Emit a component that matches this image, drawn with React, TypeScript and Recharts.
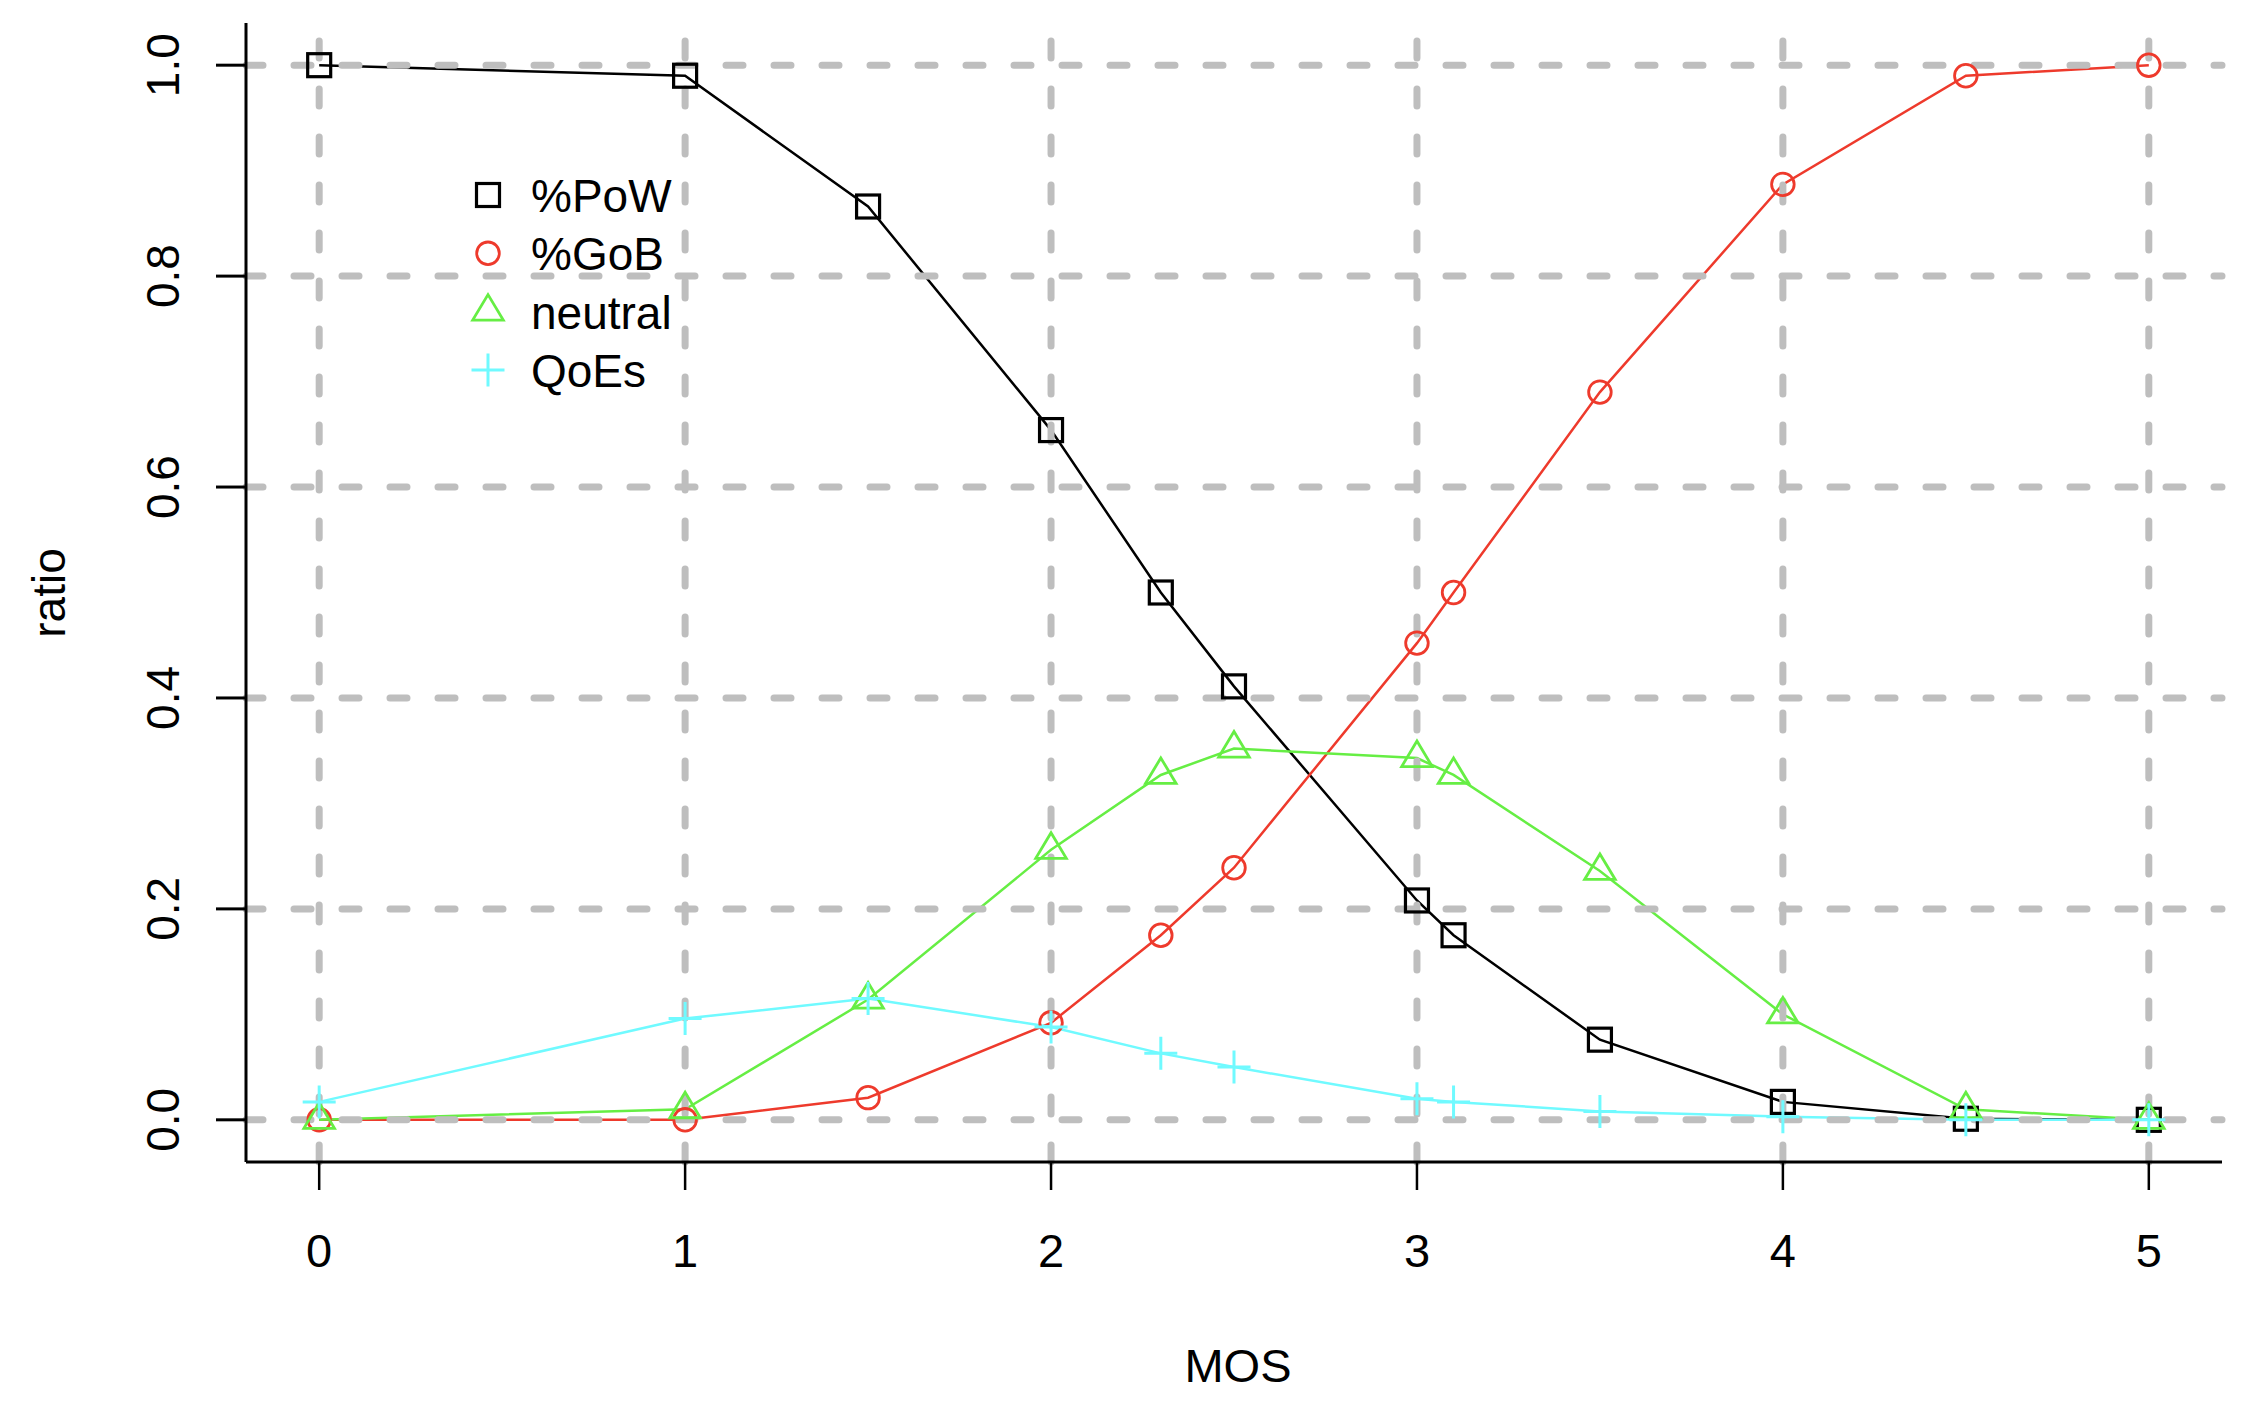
import { LineChart, Line, XAxis, YAxis, ReferenceLine, Legend, Label } from 'recharts';

// MOS positions and the four ratio curves
const mosValues = [0, 1, 1.5, 2, 2.3, 2.5, 3, 3.1, 3.5, 4, 4.5, 5];
const powValues = [1.0, 0.99, 0.866, 0.654, 0.5, 0.411, 0.208, 0.175, 0.076, 0.017, 0.001, 0.0];
const gobValues = [0.0, 0.0, 0.021, 0.092, 0.175, 0.239, 0.452, 0.5, 0.69, 0.887, 0.99, 1.0];
const neutralValues = [0.0, 0.01, 0.114, 0.256, 0.327, 0.352, 0.343, 0.327, 0.236, 0.1, 0.01, 0.0];
const qoesValues = [0.017, 0.096, 0.115, 0.088, 0.063, 0.05, 0.02, 0.017, 0.008, 0.003, 0.0, 0.0];

const xTicks = [0, 1, 2, 3, 4, 5];
const xTickLabels = ['0', '1', '2', '3', '4', '5'];
const yTicks = [0, 0.2, 0.4, 0.6, 0.8, 1.0];
const yTickLabels = ['0.0', '0.2', '0.4', '0.6', '0.8', '1.0'];

const data = mosValues.map((mos, i) => ({
  mos,
  pow: powValues[i],
  gob: gobValues[i],
  neutral: neutralValues[i],
  qoes: qoesValues[i],
}));

type Shape = 'square' | 'circle' | 'triangle' | 'plus';

const series: { key: string; name: string; color: string; shape: Shape }[] = [
  { key: 'pow', name: '%PoW', color: '#000000', shape: 'square' },
  { key: 'gob', name: '%GoB', color: '#EE3A2C', shape: 'circle' },
  { key: 'neutral', name: 'neutral', color: '#66EE44', shape: 'triangle' },
  { key: 'qoes', name: 'QoEs', color: '#70FAFF', shape: 'plus' },
];

const FONT = '"Liberation Sans", Arial, Helvetica, sans-serif';
const GRID = '#BEBEBE';

function Marker({ shape, cx, cy, color }: { shape: Shape; cx: number; cy: number; color: string }) {
  if (shape === 'square') {
    return <rect x={cx - 11.5} y={cy - 11.5} width={23} height={23} fill="none" stroke={color} strokeWidth={3.2} />;
  }
  if (shape === 'circle') {
    return <circle cx={cx} cy={cy} r={11.3} fill="none" stroke={color} strokeWidth={2.8} />;
  }
  if (shape === 'triangle') {
    const r = 17;
    const pts = `${cx},${cy - r} ${cx - r * 0.9},${cy + r / 2} ${cx + r * 0.9},${cy + r / 2}`;
    return <polygon points={pts} fill="none" stroke={color} strokeWidth={2.8} />;
  }
  return (
    <path
      d={`M${cx - 16.5},${cy}H${cx + 16.5}M${cx},${cy - 16.5}V${cy + 16.5}`}
      fill="none"
      stroke={color}
      strokeWidth={3}
    />
  );
}

const makeDot = (shape: Shape, color: string) => (props: any) => {
  const { cx, cy, index } = props;
  if (cx == null || cy == null) return <g key={`d-${index}`} />;
  return (
    <g key={`d-${shape}-${index}`}>
      <Marker shape={shape} cx={cx} cy={cy} color={color} />
    </g>
  );
};

const YTick = (props: any) => {
  const { x, y, payload, index } = props;
  const bx = x - 37;
  return (
    <text
      x={bx}
      y={y}
      transform={`rotate(-90, ${bx}, ${y})`}
      textAnchor="middle"
      fontSize={46}
      fontFamily={FONT}
      fill="#000"
    >
      {yTickLabels[index] ?? String(payload.value)}
    </text>
  );
};

const XTick = (props: any) => {
  const { x, y, index } = props;
  return (
    <text x={x} y={y + 77} textAnchor="middle" fontSize={47} fontFamily={FONT} fill="#000">
      {xTickLabels[index]}
    </text>
  );
};

const renderLegend = () => (
  <svg width={700} height={420} style={{ overflow: 'visible' }}>
    {series.map((s, i) => {
      const cy = 187 + 58.3 * i;
      return (
        <g key={s.key}>
          <Marker shape={s.shape} cx={480} cy={cy} color={s.color} />
          <text x={523} y={cy + 17} fontSize={46} fontFamily={FONT} fill="#000">
            {s.name}
          </text>
        </g>
      );
    })}
  </svg>
);

export default function App() {
  return (
    <div style={{ width: 2231, height: 1389, background: '#fff' }}>
      <LineChart
        width={2231}
        height={1389}
        data={data}
        margin={{ top: 15, right: 17, left: 138, bottom: 135 }}
      >
        <XAxis
          type="number"
          dataKey="mos"
          domain={[-0.2, 5.2]}
          ticks={xTicks}
          allowDataOverflow
          height={100}
          tickSize={28}
          tickMargin={0}
          axisLine={{ stroke: '#000', strokeWidth: 3 }}
          tickLine={{ stroke: '#000', strokeWidth: 2.5 }}
          tick={<XTick />}
        >
          <Label
            content={(p: any) => {
              const vb = p.viewBox || {};
              const cx = (vb.x ?? 238) + (vb.width ?? 1976) / 2 + 4;
              return (
                <text x={cx} y={1374} textAnchor="middle" fontSize={47} fontFamily={FONT} fill="#000">
                  MOS
                </text>
              );
            }}
          />
        </XAxis>
        <YAxis
          type="number"
          domain={[-0.04, 1.04]}
          ticks={yTicks}
          allowDataOverflow
          width={100}
          tickSize={30}
          tickMargin={0}
          axisLine={{ stroke: '#000', strokeWidth: 3 }}
          tickLine={{ stroke: '#000', strokeWidth: 3 }}
          tick={<YTick />}
        >
          <Label
            content={() => (
              <text
                x={57}
                y={585}
                transform="rotate(-90, 57, 585)"
                textAnchor="middle"
                fontSize={46}
                fontFamily={FONT}
                fill="#000"
              >
                ratio
              </text>
            )}
          />
        </YAxis>
        {series.map((s) => (
          <Line
            key={s.key}
            type="linear"
            dataKey={s.key}
            name={s.name}
            stroke={s.color}
            strokeWidth={2.5}
            dot={makeDot(s.shape, s.color)}
            activeDot={false}
            isAnimationActive={false}
          />
        ))}
        {xTicks.map((v) => (
          <ReferenceLine
            key={`gx-${v}`}
            x={v}
            stroke={GRID}
            strokeWidth={7}
            strokeDasharray="17 31"
            strokeLinecap="round"
          />
        ))}
        {yTicks.map((v) => (
          <ReferenceLine
            key={`gy-${v}`}
            y={v}
            stroke={GRID}
            strokeWidth={7}
            strokeDasharray="17 31"
            strokeLinecap="round"
          />
        ))}
        <Legend
          layout="vertical"
          align="center"
          verticalAlign="middle"
          wrapperStyle={{ left: 0, top: 0, width: 700, height: 420 }}
          content={renderLegend}
        />
      </LineChart>
    </div>
  );
}
